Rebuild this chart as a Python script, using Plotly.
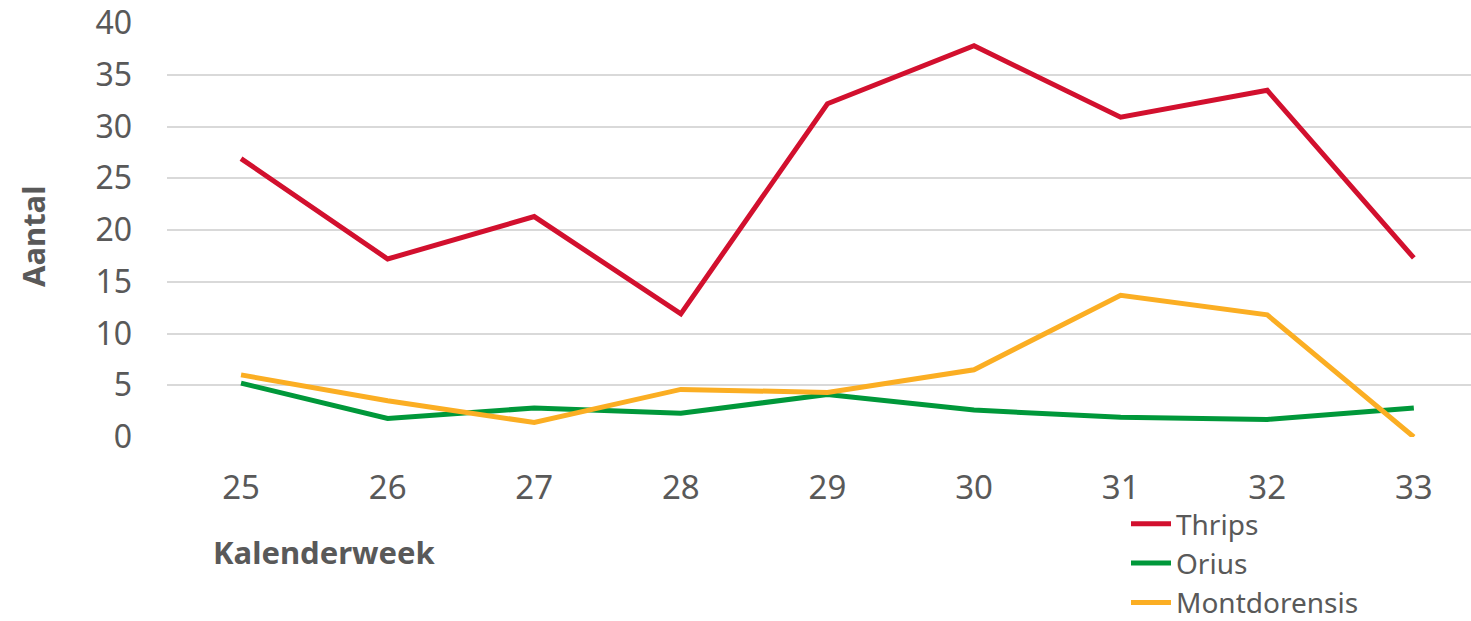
import plotly.graph_objects as go

weeks = [25, 26, 27, 28, 29, 30, 31, 32, 33]
thrips = [26.9, 17.2, 21.3, 11.9, 32.2, 37.8, 30.9, 33.5, 17.3]
orius = [5.2, 1.8, 2.8, 2.3, 4.1, 2.6, 1.9, 1.7, 2.8]
montdorensis = [6.0, 3.5, 1.4, 4.6, 4.3, 6.5, 13.7, 11.8, 0.0]

series = [
    ("Thrips", thrips, "#D2102E"),
    ("Orius", orius, "#00983A"),
    ("Montdorensis", montdorensis, "#FBAE23"),
]

FONT = "Noto Sans"
GREY = "#595959"

fig = go.Figure()
for name, vals, col in series:
    fig.add_trace(go.Scatter(x=weeks, y=vals, mode="lines", name=name,
                             line=dict(color=col, width=5)))

W, H = 1471, 621
L, R, T, B = 167, 0, 23, 184
PH = H - T - B
fig.update_layout(
    width=W, height=H,
    margin=dict(l=L, r=R, t=T, b=B, autoexpand=False),
    plot_bgcolor="white", paper_bgcolor="white",
    font=dict(family=FONT, color=GREY, size=32),
    xaxis=dict(range=[24.495, 33.39], tickmode="array", tickvals=weeks,
               ticktext=[str(w) for w in weeks], showgrid=False, zeroline=False,
               showline=False, ticks="", ticklabelstandoff=28,
               tickfont=dict(size=33, color=GREY, family=FONT)),
    yaxis=dict(range=[0, 40], tickmode="array",
               tickvals=[0, 5, 10, 15, 20, 25, 30, 35, 40],
               ticktext=["0", "5", "10", "15", "20", "25", "30", "35", "40"],
               showgrid=True, gridcolor="#D9D9D9", gridwidth=2, zeroline=False,
               showline=False, ticks="", ticklabelstandoff=34,
               tickfont=dict(size=32, color=GREY, family=FONT)),
    legend=dict(x=(1126 - L) / (W - L), y=(437 - 499) / PH,
                xanchor="left", yanchor="top", bgcolor="rgba(0,0,0,0)",
                font=dict(size=28, color=GREY, family=FONT),
                tracegroupgap=0, itemwidth=40),
    showlegend=True,
)

fig.add_annotation(text="<b>Aantal</b>", textangle=-90, xref="paper", yref="paper",
                   x=(33 - L) / (W - L), y=(437 - 237) / PH,
                   xanchor="center", yanchor="middle", showarrow=False,
                   font=dict(size=31, color=GREY, family=FONT))
fig.add_annotation(text="<b>Kalenderweek</b>", xref="paper", yref="paper",
                   x=(211 - L) / (W - L), y=(437 - 552) / PH,
                   xanchor="left", yanchor="middle", showarrow=False,
                   font=dict(size=31, color=GREY, family=FONT))

fig.write_html("out.html", config={"displayModeBar": False},
               post_script="document.body.style.margin='0';document.body.style.overflow='hidden';")
